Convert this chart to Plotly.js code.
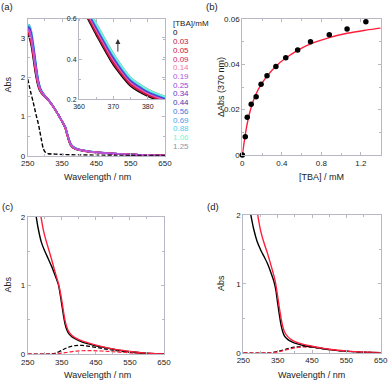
<!DOCTYPE html>
<html><head><meta charset="utf-8">
<script src="https://cdn.plot.ly/plotly-3.0.1.min.js"></script>
<style>html,body{margin:0;padding:0;background:#fff}#plot{width:389px;height:383px}</style>
</head><body><div id="plot"></div>
<script>
// ---------- Panel (a): UV-vis titration spectra ----------
const wlA = [250,255,260,265,270,275,280,285,290,300,310,320,330,340,350,355,360,365,370,375,380,385,390,400,420,450,500,550,600,650];
const concLabels = ["0","0.03","0.05","0.09","0.14","0.19","0.25","0.34","0.44","0.56","0.69","0.88","1.06","1.25"];
const concColors = ["#000000","#c0163c","#d4103e","#dc2064","#f27aa0","#b452e0","#9444dc","#6434c8","#3a3aae","#3a78e0","#42a2ee","#44d2f2","#72f6d6","#8a98b0"];
const absA_000 = [3.07,3.00,2.82,2.55,2.25,1.98,1.78,1.66,1.59,1.50,1.41,1.30,1.17,1.03,0.87,0.78,0.68,0.52,0.37,0.265,0.215,0.185,0.165,0.14,0.11,0.08,0.05,0.03,0.015,0.005];
const absA_003 = [3.11,3.05,2.87,2.61,2.30,2.02,1.81,1.68,1.60,1.50,1.413,1.301,1.171,1.03,0.871,0.784,0.687,0.528,0.378,0.271,0.220,0.189,0.169,0.143,0.112,0.081,0.051,0.03,0.015,0.005];
const absA_005 = [3.146,3.092,2.926,2.662,2.356,2.064,1.836,1.694,1.61,1.508,1.416,1.303,1.171,1.03,0.873,0.788,0.694,0.537,0.387,0.278,0.225,0.193,0.172,0.146,0.114,0.083,0.051,0.03,0.015,0.005];
const absA_009 = [3.173,3.125,2.964,2.702,2.394,2.094,1.856,1.706,1.617,1.511,1.418,1.304,1.172,1.03,0.874,0.791,0.699,0.543,0.392,0.282,0.228,0.196,0.175,0.148,0.116,0.084,0.052,0.03,0.015,0.005];
const absA_014 = [3.189,3.145,2.987,2.726,2.417,2.112,1.868,1.713,1.621,1.513,1.419,1.304,1.172,1.03,0.874,0.793,0.702,0.546,0.396,0.285,0.23,0.198,0.176,0.149,0.117,0.084,0.052,0.03,0.015,0.005];
const absA_019 = [3.213,3.175,3.021,2.762,2.451,2.139,1.886,1.724,1.627,1.516,1.421,1.305,1.173,1.03,0.875,0.796,0.707,0.552,0.401,0.289,0.234,0.201,0.178,0.151,0.118,0.085,0.053,0.03,0.015,0.005];
const absA_025 = [3.232,3.198,3.048,2.79,2.478,2.16,1.9,1.732,1.632,1.518,1.422,1.306,1.173,1.03,0.876,0.798,0.71,0.556,0.405,0.292,0.236,0.203,0.18,0.152,0.119,0.086,0.053,0.03,0.015,0.005];
const absA_034 = [3.248,3.218,3.071,2.814,2.501,2.178,1.912,1.739,1.636,1.52,1.423,1.307,1.173,1.03,0.877,0.8,0.713,0.56,0.409,0.295,0.238,0.205,0.182,0.153,0.12,0.087,0.053,0.03,0.015,0.005];
const absA_044 = [3.267,3.241,3.097,2.842,2.527,2.199,1.926,1.748,1.641,1.522,1.425,1.307,1.174,1.03,0.877,0.802,0.717,0.564,0.413,0.298,0.241,0.207,0.183,0.155,0.121,0.087,0.054,0.03,0.015,0.005];
const absA_056 = [3.283,3.261,3.12,2.866,2.55,2.217,1.938,1.755,1.645,1.524,1.426,1.308,1.174,1.03,0.878,0.804,0.72,0.567,0.417,0.301,0.243,0.209,0.185,0.156,0.122,0.088,0.054,0.03,0.015,0.005];
const absA_069 = [3.3,3.281,3.143,2.89,2.573,2.235,1.95,1.762,1.65,1.526,1.427,1.309,1.174,1.03,0.879,0.806,0.723,0.571,0.42,0.303,0.245,0.211,0.186,0.157,0.123,0.089,0.054,0.03,0.015,0.005];
const absA_088 = [3.313,3.297,3.162,2.91,2.592,2.25,1.96,1.768,1.653,1.527,1.428,1.309,1.175,1.03,0.879,0.807,0.725,0.574,0.423,0.306,0.247,0.212,0.188,0.158,0.124,0.089,0.055,0.03,0.015,0.005];
const absA_106 = [3.327,3.314,3.181,2.93,2.611,2.265,1.97,1.774,1.657,1.529,1.429,1.31,1.175,1.03,0.88,0.809,0.728,0.577,0.426,0.308,0.248,0.214,0.189,0.159,0.124,0.09,0.055,0.03,0.015,0.005];
const absA_125 = [3.34,3.33,3.2,2.95,2.63,2.28,1.98,1.78,1.66,1.53,1.43,1.31,1.175,1.03,0.88,0.81,0.73,0.58,0.429,0.31,0.25,0.215,0.19,0.16,0.125,0.09,0.055,0.03,0.015,0.005];
const wlDashA  = [250,255,260,265,270,275,280,285,290,295,300,305,310,330,350,400,450,500,550,600,650];
const absDashA = [1.95,1.76,1.57,1.40,1.21,1.02,0.85,0.64,0.40,0.19,0.10,0.07,0.05,0.04,0.03,0.02,0.015,0.01,0.008,0.005,0.003];

// ---------- Panel (b): titration curve at 370 nm ----------
const tba  = [0,0.03,0.05,0.09,0.14,0.19,0.25,0.34,0.44,0.56,0.69,0.88,1.06,1.25];
const dAbs = [0,0.0081,0.0166,0.0224,0.0257,0.0312,0.035,0.039,0.0429,0.0463,0.05,0.0531,0.0556,0.0588];
const fitX = [0,0.02,0.04,0.06,0.08,0.10,0.14,0.19,0.25,0.34,0.44,0.56,0.69,0.88,1.06,1.25,1.4];
const fitY = [0,0.006,0.0115,0.016,0.0195,0.0225,0.027,0.031,0.0348,0.0392,0.0428,0.0462,0.049,0.0518,0.0537,0.0551,0.056];

// ---------- Panel (c) ----------
const wlC_solidK  = [272,275,280,290,300,310,320,330,340,345,350,355,360,365,370,380,390,400,425,450,475,500,525,550,575,600,625,650];
const absC_solidK = [2.1,2.0,1.85,1.63,1.5,1.39,1.28,1.15,1.01,0.88,0.72,0.56,0.43,0.35,0.3,0.25,0.22,0.195,0.15,0.12,0.095,0.07,0.05,0.035,0.022,0.012,0.005,0.002];
const wlC_solidR  = [286,289,295,300,310,320,330,340,345,350,355,360,365,370,380,390,400,425,450,475,500,525,550,575,600,625,650];
const absC_solidR = [2.1,2.0,1.83,1.72,1.55,1.38,1.2,1.03,0.92,0.78,0.62,0.48,0.39,0.33,0.27,0.235,0.21,0.165,0.13,0.1,0.075,0.055,0.038,0.024,0.013,0.006,0.002];
const wlC_dashK  = [250,300,320,330,340,350,360,370,380,390,400,410,420,440,460,480,500,525,550,575,600,625,650];
const absC_dashK = [0,0,0.003,0.01,0.03,0.055,0.08,0.1,0.115,0.122,0.125,0.125,0.12,0.105,0.088,0.07,0.055,0.038,0.025,0.014,0.007,0.003,0.001];
const wlC_dashR  = [250,320,340,360,380,400,420,440,460,480,500,525,550,575,600,625,650];
const absC_dashR = [0,0,0.008,0.02,0.035,0.045,0.05,0.05,0.045,0.04,0.033,0.025,0.017,0.01,0.005,0.002,0];

// ---------- Panel (d) ----------
const wlD_solidK  = [268,272,280,290,300,310,320,330,340,345,350,355,360,365,370,380,390,400,425,450,475,500,525,550,575,600,625,650];
const absD_solidK = [2.1,2.0,1.8,1.62,1.5,1.4,1.3,1.17,1.02,0.9,0.72,0.55,0.4,0.3,0.24,0.19,0.16,0.14,0.105,0.085,0.065,0.045,0.03,0.02,0.012,0.006,0.003,0.001];
const wlD_solidR  = [289,292,300,310,320,330,340,345,350,355,360,365,370,380,390,400,425,450,475,500,525,550,575,600,625,650];
const absD_solidR = [2.1,2.0,1.78,1.6,1.45,1.28,1.1,0.98,0.82,0.65,0.5,0.38,0.3,0.23,0.19,0.16,0.12,0.095,0.07,0.05,0.035,0.024,0.015,0.008,0.004,0.001];
const wlD_dashK  = [250,320,340,360,380,400,420,440,460,480,500,525,550,575,600,625,650];
const absD_dashK = [0,0,0.008,0.03,0.06,0.08,0.09,0.085,0.075,0.06,0.045,0.032,0.022,0.013,0.006,0.003,0.001];
const wlD_dashR  = [250,330,350,370,390,410,430,450,475,500,525,550,575,600,625,650];
const absD_dashR = [0,0,0.01,0.035,0.06,0.078,0.085,0.082,0.068,0.05,0.035,0.023,0.013,0.006,0.003,0.001];

// ---------- build traces ----------
const absA = [absA_000,absA_003,absA_005,absA_009,absA_014,absA_019,absA_025,absA_034,absA_044,absA_056,absA_069,absA_088,absA_106,absA_125];
const orderMain = [13,12,11,10,9,8,7,6,0,1,2,3,4,5];
const orderInset = [13,0,1,2,3,4,5,6,7,8,9,10,11,12];
const traces = [];
orderMain.forEach(i => {
  traces.push({x: wlA, y: absA[i], xaxis:'x', yaxis:'y', mode:'lines', line:{color:concColors[i], width:1.6, shape:'spline', smoothing:0.6}, hoverinfo:'skip'});
});
traces.push({x: wlDashA, y: absDashA, xaxis:'x', yaxis:'y', mode:'lines', line:{color:'#000', width:1.4, dash:'4px,2px', shape:'spline', smoothing:0.5}});
orderInset.forEach(i => {
  traces.push({x: wlA, y: absA[i], xaxis:'x5', yaxis:'y5', mode:'lines', line:{color:concColors[i], width:1.5, shape:'spline', smoothing:0.6}});
});
traces.push({x: fitX, y: fitY, xaxis:'x2', yaxis:'y2', mode:'lines', line:{color:'#ff1f3c', width:1.4, shape:'spline'}});
traces.push({x: tba, y: dAbs, xaxis:'x2', yaxis:'y2', mode:'markers', marker:{color:'#000', size:5.5}, cliponaxis:false});

const RED = '#ff1f3c';
traces.push({x: wlC_dashK, y: absC_dashK, xaxis:'x3', yaxis:'y3', mode:'lines', line:{color:'#000', width:1.2, dash:'4px,2px', shape:'spline'}});
traces.push({x: wlC_dashR, y: absC_dashR, xaxis:'x3', yaxis:'y3', mode:'lines', line:{color:RED, width:1.2, dash:'4px,2px', shape:'spline'}});
traces.push({x: wlC_solidK, y: absC_solidK, xaxis:'x3', yaxis:'y3', mode:'lines', line:{color:'#000', width:1.4, shape:'spline', smoothing:0.6}});
traces.push({x: wlC_solidR, y: absC_solidR, xaxis:'x3', yaxis:'y3', mode:'lines', line:{color:RED, width:1.4, shape:'spline', smoothing:0.6}});
traces.push({x: wlD_dashK, y: absD_dashK, xaxis:'x4', yaxis:'y4', mode:'lines', line:{color:'#000', width:1.2, dash:'4px,2px', shape:'spline'}});
traces.push({x: wlD_dashR, y: absD_dashR, xaxis:'x4', yaxis:'y4', mode:'lines', line:{color:RED, width:1.2, dash:'4px,2px', shape:'spline'}});
traces.push({x: wlD_solidK, y: absD_solidK, xaxis:'x4', yaxis:'y4', mode:'lines', line:{color:'#000', width:1.4, shape:'spline', smoothing:0.6}});
traces.push({x: wlD_solidR, y: absD_solidR, xaxis:'x4', yaxis:'y4', mode:'lines', line:{color:RED, width:1.4, shape:'spline', smoothing:0.6}});

const W = 389, H = 383;
const px = v => v / W, py = v => 1 - v / H;
const FR = '#b8b8c4';
function axis(domain, range, tick0, dtick, mdtick, anchor, fs) {
  return {domain: domain, range: range, anchor: anchor, tick0: tick0, dtick: dtick,
    showline: true, mirror: 'ticks', linecolor: FR, linewidth: 1,
    ticks: 'inside', ticklen: 3, tickcolor: FR, tickwidth: 1,
    showgrid: false, zeroline: false, tickfont: {family: 'Liberation Sans, Arial, sans-serif', size: fs || 8, color: '#222'},
    minor: {dtick: mdtick, tick0: tick0, ticks: 'inside', ticklen: 2, tickcolor: FR, showgrid: false},
    fixedrange: true};
}
const layout = {
  width: W, height: H, margin: {l:0, r:0, t:0, b:0}, showlegend: false,
  paper_bgcolor: '#fff', plot_bgcolor: 'rgba(0,0,0,0)',
  font: {family: 'Liberation Sans, Arial, sans-serif', color: '#222'},
  xaxis:  axis([px(27.7), px(165)], [250, 650], 250, 100, 50, 'y'),
  yaxis:  axis([py(155.7), py(19)], [0, 3.48], 0, 1, 0.5, 'x'),
  xaxis2: axis([px(242.3), px(380.7)], [0, 1.4], 0, 0.4, 0.2, 'y2'),
  yaxis2: axis([py(155), py(19)], [0, 0.06], 0, 0.02, 0.01, 'x2'),
  xaxis3: axis([px(27.7), px(164)], [250, 650], 250, 100, 50, 'y3'),
  yaxis3: axis([py(354), py(216.7)], [0, 2], 0, 1, 0.5, 'x3'),
  xaxis4: axis([px(243.3), px(380.7)], [250, 650], 250, 100, 50, 'y4'),
  yaxis4: axis([py(352.7), py(215)], [0, 2], 0, 1, 0.5, 'x4'),
  xaxis5: axis([px(79), px(165)], [360, 385], 360, 10, 5, 'y5', 7),
  yaxis5: axis([py(99.3), py(19)], [0.2, 0.6], 0.2, 0.2, 0.1, 'x5', 7),
  annotations: [],
  shapes: []
};
layout.xaxis5.ticklabelstandoff = 0;
const ann = (x, y, text, opt) => Object.assign({xref:'paper', yref:'paper', x: px(x), y: py(y), text: text, showarrow: false,
  xanchor:'center', yanchor:'middle', font:{size: 9, color:'#222'}}, opt || {});
layout.annotations.push(ann(7, 7, '(a)', {font:{size:9.5, color:'#222'}}));
layout.annotations.push(ann(212, 7, '(b)', {font:{size:9.5, color:'#222'}}));
layout.annotations.push(ann(7, 206, '(c)', {font:{size:9.5, color:'#222'}}));
layout.annotations.push(ann(213, 206, '(d)', {font:{size:9.5, color:'#222'}}));
layout.annotations.push(ann(7.5, 85, 'Abs', {textangle:-90}));
layout.annotations.push(ann(97, 177, 'Wavelength / nm'));
layout.annotations.push(ann(221, 87, 'ΔAbs (370 nm)', {textangle:-90}));
layout.annotations.push(ann(321, 177, '[TBA] / mM'));
layout.annotations.push(ann(7.5, 285, 'Abs', {textangle:-90}));
layout.annotations.push(ann(97, 375, 'Wavelength / nm'));
layout.annotations.push(ann(221, 283, 'Abs', {textangle:-90}));
layout.annotations.push(ann(311, 375, 'Wavelength / nm'));
layout.annotations.push(ann(170.5, 24, '[TBA]/mM', {xanchor:'left', font:{size:8, color:'#222'}}));
concLabels.forEach((t, i) => {
  layout.annotations.push(ann(170.5, 33 + 8.7 * i, t, {xanchor:'left', font:{size:8, color: concColors[i]}}));
});
layout.annotations.push({xref:'x5', yref:'y5', axref:'x5', ayref:'y5', x: 371.3, y: 0.5, ax: 371.3, ay: 0.43,
  text:'', showarrow:true, arrowhead:2, arrowsize:1, arrowwidth:1, arrowcolor:'#333'});
Plotly.newPlot('plot', traces, layout, {staticPlot: true, displayModeBar: false});
</script>
</body></html>
